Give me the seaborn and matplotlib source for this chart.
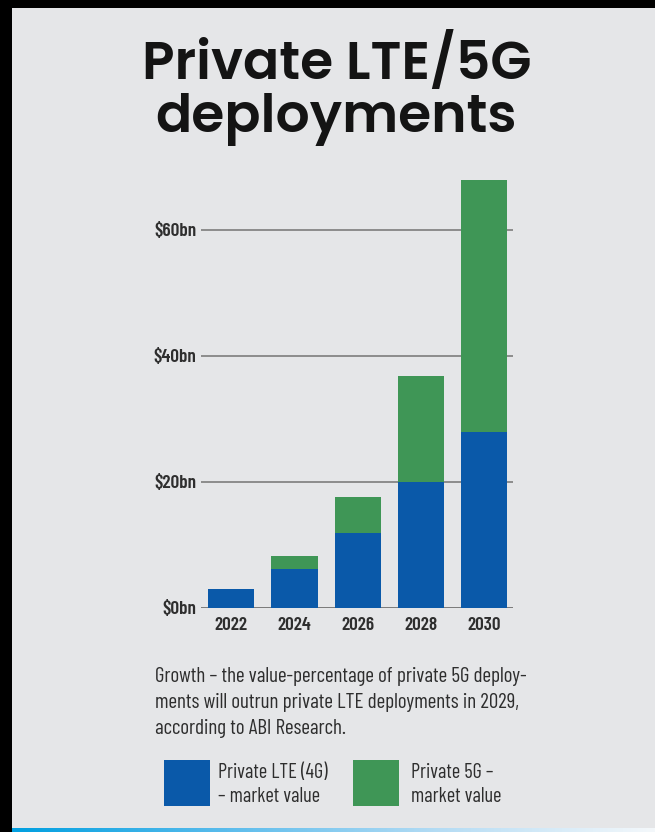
import numpy as np
import pandas as pd
import matplotlib
matplotlib.use("Agg")
import matplotlib.pyplot as plt
from matplotlib.patches import Rectangle
from matplotlib.colors import LinearSegmentedColormap
from matplotlib import font_manager
import seaborn as sns

# ---------------- data ----------------
years = ["2022", "2024", "2026", "2028", "2030"]
lte_values = [3.0, 6.1, 11.8, 20.0, 27.9]      # Private LTE (4G), $bn
g5_values = [0.0, 2.1, 5.7, 16.7, 40.0]        # Private 5G, $bn (stacked on top)
y_ticks = [0, 20, 40, 60]
y_tick_labels = ["$0bn", "$20bn", "$40bn", "$60bn"]
title_lines = ["Private LTE/5G", "deployments"]
caption_lines = [
    "Growth \u2013 the value-percentage of private 5G deploy-",
    "ments will outrun private LTE deployments in 2029,",
    "according to ABI Research.",
]
legend_labels = [["Private LTE (4G)", "\u2013 market value"], ["Private 5G \u2013", "market value"]]

BLUE = "#0a59a9"
GREEN = "#3f9656"
PANEL = "#e5e6e8"
TEXT = "#2e2e2e"

df = pd.DataFrame({"year": years, "lte": lte_values, "g5": g5_values})
df["total"] = df["lte"] + df["g5"]

entries = font_manager.fontManager.ttflist

def pick(cands, weight):
    for c in cands:
        for f in entries:
            w = f.weight if isinstance(f.weight, int) else 400
            if f.name == c and w == weight:
                return c
    return None

TITLE_FONT = pick(["Poppins"], 600)
TITLE_WEIGHT = 600
if TITLE_FONT is None:
    TITLE_FONT = pick(["Poppins", "Montserrat", "Lato"], 700) or "DejaVu Sans"
    TITLE_WEIGHT = "bold"
NARROW = pick(["Barlow Condensed", "Saira SemiCondensed"], 600) or "DejaVu Sans"
plt.rcParams["font.family"] = [NARROW, "DejaVu Sans"]

W, H = 655, 832
fig = plt.figure(figsize=(W / 100, H / 100), dpi=100)
fig.patch.set_facecolor("black")
renderer = fig.canvas.get_renderer()

def fx(px):
    return px / W

def fy(py):
    return 1 - py / H

def fit_size(text, target, family, weight, base=20):
    t = fig.text(0, 0, text, fontsize=base, family=[family, "DejaVu Sans"], fontweight=weight)
    w = t.get_window_extent(renderer).width
    t.remove()
    return base * target / w

# grey panel
fig.add_artist(Rectangle((fx(12), fy(827.7)), 1 - fx(12), fy(8) - fy(827.7),
                         transform=fig.transFigure, facecolor=PANEL, edgecolor="none", zorder=0))

# gradient strip at bottom
gax = fig.add_axes([fx(12), 0, 1 - fx(12), 4.3 / H])
cmap = LinearSegmentedColormap.from_list("strip", ["#009fe0", "#5bbcec", "#b5dcf4", "#f4f8fb"])
gax.imshow(np.linspace(0, 1, 256)[None, :], aspect="auto", cmap=cmap)
gax.set_axis_off()

# main axes
ax_left, ax_right = 201, 513
ax_bottom, ax_top = 607.7, 176
ax = fig.add_axes([fx(ax_left), fy(ax_bottom), fx(ax_right - ax_left), (ax_bottom - ax_top) / H])
ax.patch.set_alpha(0)

sns.barplot(data=df, x="year", y="total", color=GREEN, saturation=1, width=0.73,
            ax=ax, zorder=3, edgecolor="none", linewidth=0)
sns.barplot(data=df, x="year", y="lte", color=BLUE, saturation=1, width=0.73,
            ax=ax, zorder=4, edgecolor="none", linewidth=0)

ax.set_xlim(-0.48, 4.46)
ax.set_ylim(0, 68.5)
ax.set_yticks(y_ticks)
ax.set_yticklabels(y_tick_labels)
ax.set_xlabel("")
ax.set_ylabel("")
for s in ax.spines.values():
    s.set_visible(False)
for yv in y_ticks:
    ax.axhline(yv, color="#8c8c8c" if yv else "#7a7a7a", lw=1.4, zorder=1)

ysz = fit_size("$60bn", 42, NARROW, 600)
xsz = fit_size("2022", 33, NARROW, 600)
ax.tick_params(axis="y", length=0, pad=3.5, labelsize=ysz, labelcolor=TEXT)
ax.tick_params(axis="x", length=0, pad=7, labelsize=xsz, labelcolor=TEXT)
for t in ax.get_yticklabels() + ax.get_xticklabels():
    t.set_fontweight(600)

# title
tfs = fit_size(title_lines[0], 389, TITLE_FONT, TITLE_WEIGHT)
fig.text(fx(337), fy(79.3), title_lines[0], ha="center", va="baseline",
         fontsize=tfs, fontweight=TITLE_WEIGHT, family=[TITLE_FONT, "DejaVu Sans"], color="#141414")
fig.text(fx(336), fy(131.7), title_lines[1], ha="center", va="baseline",
         fontsize=tfs, fontweight=TITLE_WEIGHT, family=[TITLE_FONT, "DejaVu Sans"], color="#141414")

# caption
cfs = fit_size(caption_lines[0], 373, NARROW, "normal")
cap_baselines = [681.7, 708.3, 734.5]
for line, b in zip(caption_lines, cap_baselines):
    fig.text(fx(155), fy(b), line, ha="left", va="baseline", fontsize=cfs, color=TEXT)

# legend
lfs = fit_size(legend_labels[0][0], 109, NARROW, "normal")
for (x0, color, text_x, labels) in [(164, BLUE, 218, legend_labels[0]),
                                    (353.3, GREEN, 410.7, legend_labels[1])]:
    fig.add_artist(Rectangle((fx(x0), fy(806)), fx(46), 46 / H, transform=fig.transFigure,
                             facecolor=color, edgecolor="none", zorder=2))
    fig.text(fx(text_x), fy(778), labels[0], ha="left", va="baseline", fontsize=lfs, color=TEXT)
    fig.text(fx(text_x), fy(801.7), labels[1], ha="left", va="baseline", fontsize=lfs, color=TEXT)

fig.savefig("out.png", dpi=100, facecolor=fig.get_facecolor())
